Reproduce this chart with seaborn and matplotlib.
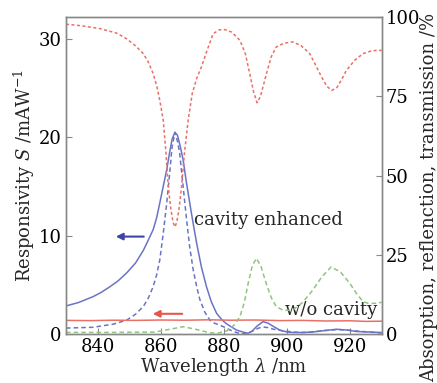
import numpy as np
import pandas as pd
import matplotlib
matplotlib.use("Agg")
import matplotlib.pyplot as plt
import seaborn as sns

# ---- data ----
# cavity enhanced responsivity (solid blue, left axis, mA/W)
wl_ce = [830, 834, 838.6, 841, 843.9, 846.5, 849.2, 852, 854.5, 856, 857.6, 858.7, 859.7,
         860.8, 861.9, 862.8, 863.6, 864.5, 865.3, 866.1, 867.1, 868.1, 869.2, 870.3,
         871.4, 872.9, 874.5, 876, 877.7, 879.5, 881, 882.5, 884, 886, 887.7, 889, 890.5,
         892.4, 894, 895.5, 897.7, 900, 902, 905, 908, 912, 915.7, 919, 922, 926, 930]
s_ce = [2.85, 3.2, 3.8, 4.2, 4.8, 5.4, 6.2, 7.2, 8.5, 9.5, 10.6, 11.8, 13.3,
        15.0, 16.7, 18.4, 19.8, 20.5, 20.2, 19.2, 17.7, 15.5, 13.3, 11.2,
        9.2, 6.8, 4.8, 3.3, 2.1, 1.4, 1.0, 0.7, 0.4, 0.2, 0.07, 0.3, 0.8,
        1.25, 1.1, 0.8, 0.4, 0.2, 0.15, 0.15, 0.2, 0.35, 0.48, 0.4, 0.25, 0.2, 0.15]
# cavity enhanced, dashed blue (left axis)
wl_cd = [830, 838.6, 845, 849.2, 852, 854.5, 856, 857.6, 858.7, 859.7, 860.8, 861.9, 862.8,
         863.6, 864.5, 865.3, 866.0, 867.1, 868.2, 869.2, 870.3, 871.4, 872.4, 874, 875.6,
         877, 878.7, 880.5, 882, 884, 886.1, 888, 889.5, 891, 892.4, 894, 895.5, 897,
         899, 902, 905, 908, 912, 916, 919, 922, 926, 930]
s_cd = [0.6, 0.68, 1.0, 1.4, 2.0, 2.8, 3.6, 4.8, 6.0, 7.5, 10.2, 13.3, 16.2,
        19.0, 20.5, 19.6, 18.4, 15.0, 11.6, 8.8, 6.5, 4.8, 3.5, 2.2, 1.4,
        1.1, 0.9, 0.65, 0.4, 0.15, 0.0, 0.15, 0.35, 0.6, 0.7, 0.65, 0.5, 0.4,
        0.3, 0.2, 0.15, 0.2, 0.35, 0.45, 0.4, 0.3, 0.2, 0.1]
# without cavity responsivity (solid red, left axis)
wl_wo = [830, 838, 845, 852, 860, 868, 875, 882, 890, 898, 905, 912, 920, 925, 930]
s_wo = [1.38, 1.36, 1.4, 1.38, 1.42, 1.4, 1.44, 1.4, 1.42, 1.36, 1.38, 1.32, 1.34, 1.28, 1.3]
# reflection (dotted red, right axis, %)
wl_r = [830, 835, 840.8, 846, 849.2, 852, 854.5, 856, 857.6, 858.7, 859.7, 860.8, 861.6, 862.4,
        863.2, 863.9, 864.5, 865.1, 865.8, 866.6, 867.5, 868.7, 870, 871.5, 872.9, 874.5,
        876.6, 878.5, 880.3, 882.5, 885.1, 886.8, 888.2, 889.4, 890.5, 891.6, 892.6, 893.5,
        895, 896.6, 899, 901.9, 904.5, 907.2, 909, 910.9, 912.6, 914.2, 915.8, 917.3,
        918.8, 921.5, 924.1, 926.5, 928.8, 930]
refl = [97.8, 97.3, 96.4, 95.0, 93.2, 91.0, 88.5, 86.0, 82.2, 78.5, 73.8, 67.5, 58.0, 46.5,
        39.5, 35.3, 33.8, 35.3, 39.5, 46.5, 57.0, 67.5, 76.0, 81.0, 84.3, 89.0,
        94.8, 96.0, 96.1, 95.3, 92.7, 88.5, 82.2, 76.5, 73.0, 75.0, 78.8, 82.2,
        87.5, 90.6, 91.8, 92.2, 91.0, 88.5, 85.0, 81.2, 78.2, 76.9, 77.8, 80.3,
        83.2, 86.5, 88.5, 89.3, 89.6, 89.5]
# absorption (dashed green, right axis, %)
wl_a = [830, 845, 858, 863, 867.1, 871, 875, 877.7, 881, 883.5, 885.1, 886.5, 887.7, 889, 890.3,
        891.7, 893.4, 895, 896.6, 899, 901.9, 905, 908.2, 911, 914.0, 917, 919.9, 922,
        924.1, 926, 928.3, 930]
absorb = [0.5, 0.5, 0.6, 1.5, 2.3, 1.5, 0.5, 0.2, 1.0, 3.0, 5.5, 10.0, 16.0, 21.5, 23.9,
          21.5, 16.0, 11.5, 8.6, 7.4, 7.6, 10.0, 13.9, 18.0, 21.2, 19.5, 16.0, 12.8,
          10.2, 9.6, 9.7, 10.0]

x_ticks = [840, 860, 880, 900, 920]
left_ticks = [0, 10, 20, 30]
right_ticks = [0, 25, 50, 75, 100]

sns.set_theme(style="white")
plt.rcParams['font.family'] = ['DejaVu Serif']
plt.rcParams['mathtext.fontset'] = 'dejavuserif'

fig = plt.figure(figsize=(4.37, 3.83), dpi=100)
ax = fig.add_axes([0.151, 0.128, 0.7225, 0.827])
ax2 = ax.twinx()

blue = '#6b74c4'
red = '#ea6f66'
green = '#8fc47f'

sns.lineplot(x=wl_r, y=refl, ax=ax2, color=red, lw=1.1, linestyle=(0, (2, 1.6)))
sns.lineplot(x=wl_a, y=absorb, ax=ax2, color=green, lw=1.1, linestyle=(0, (3, 2)))
sns.lineplot(x=wl_ce, y=s_ce, ax=ax, color=blue, lw=1.1)
sns.lineplot(x=wl_cd, y=s_cd, ax=ax, color=blue, lw=1.1, linestyle=(0, (3, 2)))
sns.lineplot(x=wl_wo, y=s_wo, ax=ax, color=red, lw=1.1)

ax.set_xlim(830, 930)
ax.set_ylim(0, 32.2)
ax2.set_ylim(0, 100)
ax.set_xticks(x_ticks)
ax.set_yticks(left_ticks)
ax2.set_yticks(right_ticks)

fs = 13
for a in (ax, ax2):
    for s in a.spines.values():
        s.set_color('#888888')
        s.set_linewidth(1.0)
    a.tick_params(direction='in', length=4, width=0.8, color='#888888',
                  labelsize=fs, pad=3, labelcolor='black')
ax.tick_params(axis='x', bottom=True, top=False)
ax.tick_params(axis='y', left=True, right=False)
ax2.tick_params(axis='y', right=True, left=False)

ax.set_xlabel(r'Wavelength $\lambda$ /nm', fontsize=fs, labelpad=0)
ax.set_ylabel(r'Responsivity $S$ /mAW$^{-1}$', fontsize=fs, labelpad=1)
fig.text(0.982, 0.003, 'Absorption, reflenction, transmission /%', rotation=90,
         fontsize=13, va='bottom', ha='center')

ax.annotate('', xy=(844.9, 9.9), xytext=(855.5, 9.9),
            arrowprops=dict(arrowstyle='-|>', color='#3c46a6', lw=1.5,
                            mutation_scale=10))
ax.annotate('', xy=(856.6, 2.05), xytext=(867.7, 2.05),
            arrowprops=dict(arrowstyle='-|>', color='#e8554f', lw=1.5,
                            mutation_scale=10))
ax.text(870.6, 11.6, 'cavity enhanced', fontsize=fs, va='center', ha='left')
ax.text(899.3, 2.4, 'w/o cavity', fontsize=fs, va='center', ha='left')

fig.savefig('out.png', dpi=100)
